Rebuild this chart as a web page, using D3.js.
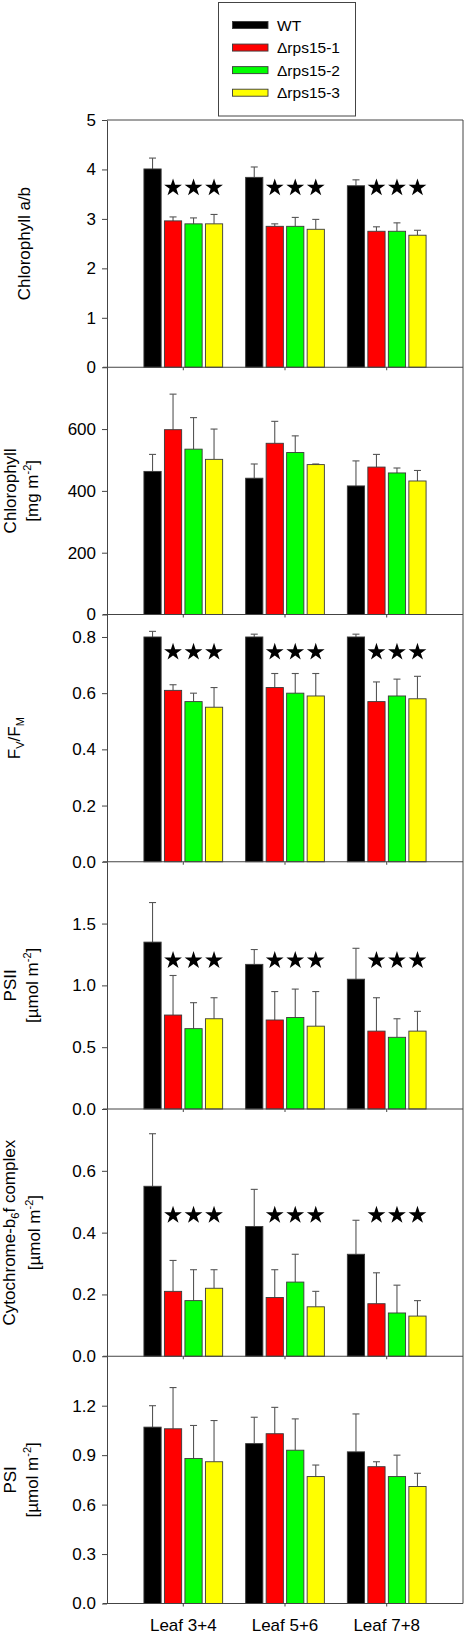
<!DOCTYPE html>
<html><head><meta charset="utf-8">
<script src="https://cdn.jsdelivr.net/npm/d3@7"></script>
<style>
html,body{margin:0;padding:0;background:#fff;}
svg{display:block;font-family:"Liberation Sans",Arial,sans-serif;}
</style></head>
<body>
<svg id="chart" width="465" height="1633"></svg>
<script>
// ---------- data ----------
const groups = ["Leaf 3+4", "Leaf 5+6", "Leaf 7+8"];
const seriesNames = ["WT", "\u0394rps15-1", "\u0394rps15-2", "\u0394rps15-3"];
const seriesColors = ["#000000", "#ff0000", "#00ff00", "#ffff00"];

// values [group][series]
const chlABMean = [[4.01, 2.96, 2.90, 2.90], [3.84, 2.85, 2.85, 2.79], [3.67, 2.75, 2.75, 2.67]];
const chlABErr  = [[0.22, 0.08, 0.12, 0.19], [0.21, 0.05, 0.18, 0.20], [0.12, 0.09, 0.17, 0.10]];

const chlMean = [[463, 598, 535, 502], [441, 554, 524, 485], [416, 477, 458, 432]];
const chlErr  = [[55, 115, 102, 98], [46, 71, 54, 2], [81, 41, 16, 34]];

const fvfmMean = [[0.80, 0.61, 0.57, 0.55], [0.80, 0.62, 0.60, 0.59], [0.80, 0.57, 0.59, 0.58]];
const fvfmErr  = [[0.02, 0.02, 0.03, 0.07], [0.01, 0.05, 0.07, 0.08], [0.01, 0.07, 0.06, 0.08]];

const psiiMean = [[1.35, 0.76, 0.65, 0.73], [1.17, 0.72, 0.74, 0.67], [1.05, 0.63, 0.58, 0.63]];
const psiiErr  = [[0.32, 0.32, 0.21, 0.17], [0.12, 0.23, 0.23, 0.28], [0.25, 0.27, 0.15, 0.16]];

const cytMean = [[0.55, 0.21, 0.18, 0.22], [0.42, 0.19, 0.24, 0.16], [0.33, 0.17, 0.14, 0.13]];
const cytErr  = [[0.17, 0.10, 0.10, 0.06], [0.12, 0.09, 0.09, 0.05], [0.11, 0.10, 0.09, 0.05]];

const psiMean = [[1.07, 1.06, 0.88, 0.86], [0.97, 1.03, 0.93, 0.77], [0.92, 0.83, 0.77, 0.71]];
const psiErr  = [[0.13, 0.25, 0.20, 0.25], [0.16, 0.16, 0.19, 0.07], [0.23, 0.03, 0.13, 0.08]];

const yMax = [5, 800, 0.88, 2.0, 0.8, 1.5];
const yTicks = [[0, 1, 2, 3, 4, 5], [0, 200, 400, 600], [0, 0.2, 0.4, 0.6, 0.8], [0, 0.5, 1.0, 1.5], [0, 0.2, 0.4, 0.6], [0, 0.3, 0.6, 0.9, 1.2]];
const yFormats = ["d", "d", ".1f", ".1f", ".1f", ".1f"];
// significance stars (level in data units, null = none)
const starLevel = [3.65, null, 0.75, 1.21, 0.46, null];

// ---------- layout ----------
const svg = d3.select("#chart");
const left = 107, right = 463, top0 = 120, panelH = 247.25;
const font = '"Liberation Sans",Arial,sans-serif';
const axisColor = "#444";

const panels = [
  {mean: chlABMean, err: chlABErr},
  {mean: chlMean, err: chlErr},
  {mean: fvfmMean, err: fvfmErr},
  {mean: psiiMean, err: psiiErr},
  {mean: cytMean, err: cytErr},
  {mean: psiMean, err: psiErr}
];

const x0 = d3.scalePoint().domain(groups).range([left, right]).padding(0.75);
const half = x0.step() * 0.387;
const x1 = d3.scaleBand().domain(seriesNames).range([-half, half]).paddingInner(0.16).paddingOuter(0);

// Y titles
const titleDefs = [
  {lines: [[["Chlorophyll a/b", 0]]], base: 30},
  {lines: [[["Chlorophyll", 0]], [["[mg m", 0], ["-2", 1], ["]", 0]]], base: 16, gap: 22},
  {lines: [[["F", 0], ["V", -1], ["/F", 0], ["M", -1]]], base: 20},
  {lines: [[["PSII", 0]], [["[\u00b5mol m", 0], ["-2", 1], ["]", 0]]], base: 16, gap: 22},
  {lines: [[["Cytochrome-b", 0], ["6", -1], ["f complex", 0]], [["[\u00b5mol m", 0], ["-2", 1], ["]", 0]]], base: 15, gap: 25},
  {lines: [[["PSI", 0]], [["[\u00b5mol m", 0], ["-2", 1], ["]", 0]]], base: 16, gap: 22}
];

panels.forEach((p, i) => {
  const pTop = top0 + i * panelH, pBot = pTop + panelH;
  const y = d3.scaleLinear().domain([0, yMax[i]]).range([pBot, pTop]);
  const g = svg.append("g");

  // bars
  p.mean.forEach((row, gi) => {
    const gx = x0(groups[gi]);
    row.forEach((v, si) => {
      const bx = gx + x1(seriesNames[si]);
      const e = p.err[gi][si];
      const cx = bx + x1.bandwidth() / 2;
      // error bar
      g.append("line").attr("x1", cx).attr("x2", cx).attr("y1", y(v)).attr("y2", y(v + e))
        .attr("stroke", "#555").attr("stroke-width", 1.1);
      g.append("line").attr("x1", cx - 3.5).attr("x2", cx + 3.5).attr("y1", y(v + e)).attr("y2", y(v + e))
        .attr("stroke", "#555").attr("stroke-width", 1.1);
      g.append("rect").attr("x", bx).attr("y", y(v)).attr("width", x1.bandwidth()).attr("height", y(0) - y(v))
        .attr("fill", seriesColors[si]).attr("stroke", "#3a3a3a").attr("stroke-width", 0.9);
    });
    // stars
    if (starLevel[i] !== null) {
      [1, 2, 3].forEach(si => {
        const cx = gx + x1(seriesNames[si]) + x1.bandwidth() / 2;
        g.append("path").attr("d", d3.symbol(d3.symbolStar, 98)())
          .attr("transform", `translate(${cx},${y(starLevel[i]) + 1})`)
          .attr("fill", "#000");
      });
    }
  });

  // y axis
  const ax = d3.axisLeft(y).tickValues(yTicks[i]).tickFormat(d3.format(yFormats[i]))
    .tickSizeInner(5).tickSizeOuter(0).tickPadding(6);
  const ag = svg.append("g").attr("transform", `translate(${left},0)`).call(ax);
  ag.select(".domain").attr("stroke", axisColor);
  ag.selectAll(".tick line").attr("stroke", axisColor);
  ag.selectAll(".tick text").attr("font-size", 17).attr("font-family", font).attr("fill", "#000");

  // x axis line (bottom of panel)
  svg.append("line").attr("x1", left - 4).attr("x2", right).attr("y1", pBot).attr("y2", pBot)
    .attr("stroke", axisColor).attr("stroke-width", 1);
  groups.forEach(gr => {
    svg.append("line").attr("x1", x0(gr)).attr("x2", x0(gr)).attr("y1", pBot).attr("y2", pBot + 3)
      .attr("stroke", axisColor);
  });

  // y title
  const td = titleDefs[i];
  const tg = svg.append("g").attr("transform", `translate(${td.base},${(pTop + pBot) / 2}) rotate(-90)`);
  td.lines.forEach((ln, li) => {
    const t = tg.append("text").attr("x", 0).attr("y", li * (td.gap || 0))
      .attr("text-anchor", "middle").attr("font-size", 17).attr("font-family", font).attr("fill", "#000");
    let shift = 0;
    ln.forEach(([s, pos]) => {
      const target = pos === 1 ? -7 : pos === -1 ? 4 : 0;
      t.append("tspan").attr("dy", target - shift).attr("font-size", pos === 0 ? 17 : 11).text(s);
      shift = target;
    });
  });
});

// frame top & right
svg.append("line").attr("x1", left).attr("x2", right).attr("y1", top0).attr("y2", top0).attr("stroke", axisColor);
svg.append("line").attr("x1", right).attr("x2", right).attr("y1", top0).attr("y2", top0 + 6 * panelH).attr("stroke", axisColor);

// x labels
const bottom = top0 + 6 * panelH;
groups.forEach(gr => {
  svg.append("text").attr("x", x0(gr)).attr("y", bottom + 27).attr("text-anchor", "middle")
    .attr("font-size", 17).attr("font-family", font).text(gr);
});

// legend
const lg = svg.append("g");
lg.append("rect").attr("x", 218.5).attr("y", 2.5).attr("width", 137).attr("height", 113.5)
  .attr("fill", "#fff").attr("stroke", "#444");
const legY = d3.scalePoint().domain(seriesNames).range([25, 92.7]);
seriesNames.forEach((s, si) => {
  lg.append("rect").attr("x", 232.5).attr("y", legY(s) - 3.5).attr("width", 35.5).attr("height", 7)
    .attr("fill", seriesColors[si]).attr("stroke", "#3a3a3a").attr("stroke-width", 0.9);
  lg.append("text").attr("x", 277).attr("y", legY(s) + 5.5).attr("font-size", 15.5)
    .attr("font-family", font).text(s);
});
</script>
</body></html>
